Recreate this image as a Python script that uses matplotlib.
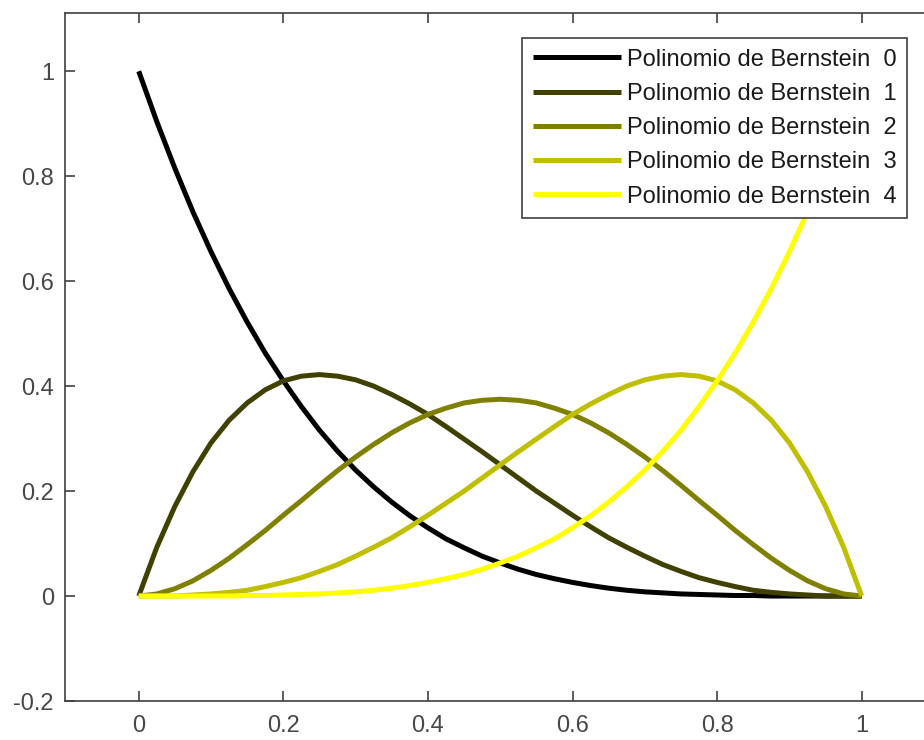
import matplotlib
matplotlib.use("Agg")
import matplotlib.pyplot as plt

x = [0, .025, .05, .075, .1, .125, .15, .175, .2, .225, .25, .275, .3, .325, .35, .375, .4, .425, .45, .475,
     .5, .525, .55, .575, .6, .625, .65, .675, .7, .725, .75, .775, .8, .825, .85, .875, .9, .925, .95, .975, 1]
b0 = [1, .904, .815, .732, .656, .586, .522, .463, .410, .361, .316, .276, .240, .208, .179, .153, .130, .109, .092, .076,
      .063, .051, .041, .033, .026, .020, .015, .011, .008, .006, .004, .003, .002, .001, .001, 0, 0, 0, 0, 0, 0]
b1 = [0, .093, .171, .237, .292, .335, .368, .393, .410, .419, .422, .419, .412, .400, .384, .366, .346, .323, .299, .275,
      .250, .225, .200, .177, .154, .132, .111, .093, .076, .060, .047, .035, .026, .018, .011, .007, .004, .002, 0, 0, 0]
b2 = [0, .004, .014, .029, .049, .072, .098, .125, .154, .182, .211, .239, .265, .289, .311, .330, .346, .358, .368, .373,
      .375, .373, .368, .358, .346, .330, .311, .289, .265, .239, .211, .182, .154, .125, .098, .072, .049, .029, .014, .004, 0]
b3 = b1[::-1]
b4 = b0[::-1]
series = [b0, b1, b2, b3, b4]
labels = ["Polinomio de Bernstein  0", "Polinomio de Bernstein  1", "Polinomio de Bernstein  2",
          "Polinomio de Bernstein  3", "Polinomio de Bernstein  4"]
colors = [(0, 0, 0), (0.25, 0.25, 0), (0.5, 0.5, 0), (0.75, 0.75, 0), (1, 1, 0)]
xticks = [0, 0.2, 0.4, 0.6, 0.8, 1]
yticks = [-0.2, 0, 0.2, 0.4, 0.6, 0.8, 1]

plt.rcParams['font.family'] = ['Liberation Sans', 'DejaVu Sans']
fig = plt.figure(figsize=(9.24, 7.4), dpi=100)
ax = fig.add_axes([65/924, 1-701/740, (934-65)/924, (701-13)/740])
for y, c, l in zip(series, colors, labels):
    ax.plot(x, y, color=c, lw=3.6, label=l, solid_capstyle='butt', solid_joinstyle='round')
ax.set_xlim(-0.102, 1.1)
ax.set_ylim(-0.2, 1.111)
ax.set_xticks(xticks)
ax.set_xticklabels(["0", "0.2", "0.4", "0.6", "0.8", "1"])
ax.set_yticks(yticks)
ax.set_yticklabels(["-0.2", "0", "0.2", "0.4", "0.6", "0.8", "1"])
axc = (0.25, 0.25, 0.25)
for s in ax.spines.values():
    s.set_color(axc)
    s.set_linewidth(1.2)
ax.tick_params(direction='in', length=7, width=1.2, color=axc, labelcolor=(0.28, 0.28, 0.28),
               labelsize=17, top=True, right=True)
ax.tick_params(axis='x', pad=10)
ax.tick_params(axis='y', pad=8)
leg = ax.legend(loc='upper left', bbox_to_anchor=((522-65)/869, 1-(38-13)/688),
                fontsize=17, frameon=True, fancybox=False, edgecolor=axc, framealpha=1,
                handlelength=3.75, handletextpad=0.25, borderpad=0.45, labelspacing=0.52,
                borderaxespad=0)
leg.get_frame().set_linewidth(1.2)
for t in leg.get_texts():
    t.set_color((0.1, 0.1, 0.1))
fig.savefig("out.png", dpi=100)
